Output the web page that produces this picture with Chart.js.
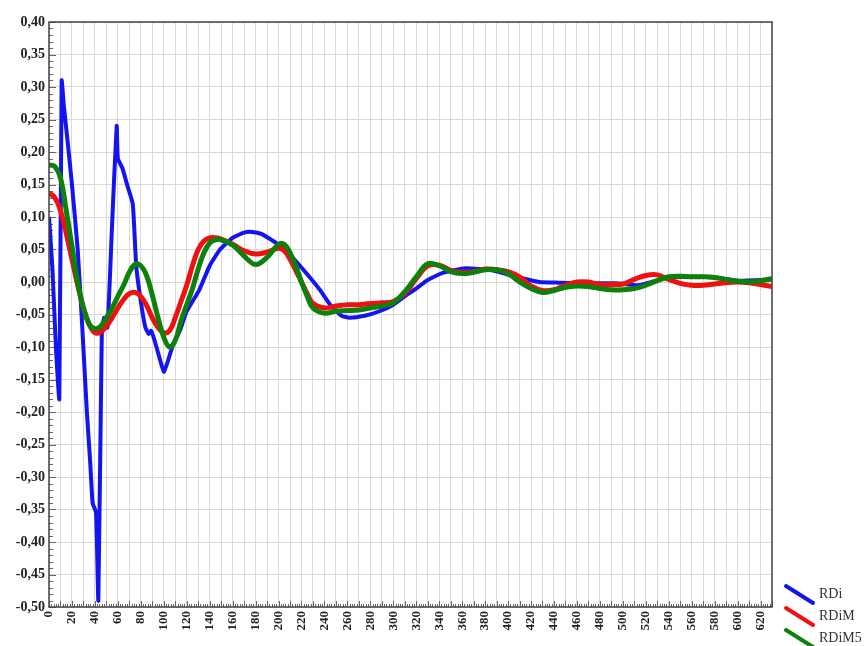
<!DOCTYPE html>
<html>
<head>
<meta charset="utf-8">
<script src="https://cdn.jsdelivr.net/npm/chart.js@4.4.1/dist/chart.umd.min.js"></script>
<style>
  html, body { margin: 0; padding: 0; background: #fff; }
  #wrap { width: 866px; height: 646px; position: relative; }
</style>
</head>
<body>
<div id="wrap"><canvas id="rdChart" width="866" height="646"></canvas></div>
<script>
// RDi (raw) sampled at its own positions
const xRDi = [0, 3, 6, 9, 11, 13, 16, 20, 25, 29, 33, 36, 38, 41, 43, 46, 48, 51, 55, 59, 60, 64, 68, 73, 76, 80, 84, 87, 89, 92, 96, 100, 103, 108, 114, 120, 131, 140, 149, 160, 170, 177, 185, 198, 212, 225, 236, 245, 255, 262, 275, 288, 300, 310, 320, 330, 343, 363, 386, 407, 427, 444, 470, 494, 514, 537, 560, 580, 600, 630];
const yRDi = [0.10, 0.02, -0.10, -0.18, 0.31, 0.27, 0.22, 0.15, 0.05, -0.07, -0.20, -0.28, -0.34, -0.355, -0.49, -0.08, -0.055, -0.07, 0.09, 0.24, 0.19, 0.175, 0.15, 0.12, 0.025, -0.03, -0.07, -0.08, -0.075, -0.09, -0.115, -0.138, -0.125, -0.097, -0.075, -0.045, -0.012, 0.025, 0.05, 0.068, 0.076, 0.077, 0.074, 0.06, 0.038, 0.012, -0.012, -0.035, -0.052, -0.055, -0.052, -0.045, -0.035, -0.022, -0.010, 0.003, 0.014, 0.021, 0.018, 0.008, 0.000, -0.001, -0.002, -0.002, -0.005, 0.006, 0.008, 0.007, 0.002, 0.004];

// smoothed series share one set of positions
const xSmooth = [0, 5, 10, 15, 20, 25, 30, 35, 40, 45, 50, 55, 60, 65, 70, 75, 80, 85, 90, 95, 100, 105, 110, 115, 120, 125, 130, 135, 140, 145, 150, 160, 170, 180, 190, 200, 205, 210, 215, 220, 225, 230, 240, 250, 260, 270, 280, 290, 300, 310, 320, 330, 340, 350, 360, 370, 380, 390, 400, 410, 420, 430, 440, 450, 460, 470, 480, 490, 500, 510, 520, 530, 540, 550, 560, 570, 580, 590, 600, 610, 620, 630];
const yRDiM = [0.137, 0.130, 0.110, 0.075, 0.035, -0.005, -0.040, -0.065, -0.078, -0.077, -0.068, -0.055, -0.040, -0.027, -0.018, -0.016, -0.022, -0.036, -0.055, -0.070, -0.078, -0.075, -0.055, -0.030, -0.005, 0.025, 0.050, 0.063, 0.068, 0.068, 0.066, 0.058, 0.048, 0.043, 0.046, 0.052, 0.048, 0.035, 0.018, 0.000, -0.018, -0.033, -0.040, -0.037, -0.035, -0.035, -0.033, -0.032, -0.030, -0.018, 0.005, 0.025, 0.026, 0.018, 0.015, 0.016, 0.020, 0.019, 0.016, 0.008, -0.006, -0.013, -0.012, -0.005, 0.000, 0.000, -0.004, -0.004, -0.003, 0.004, 0.010, 0.011, 0.004, -0.002, -0.005, -0.005, -0.003, -0.001, 0.000, -0.001, -0.004, -0.007];
const yRDiM5 = [0.180, 0.178, 0.160, 0.110, 0.055, 0.000, -0.040, -0.065, -0.072, -0.068, -0.055, -0.040, -0.022, -0.005, 0.015, 0.027, 0.025, 0.010, -0.020, -0.055, -0.085, -0.100, -0.090, -0.060, -0.035, -0.010, 0.020, 0.045, 0.060, 0.065, 0.065, 0.057, 0.040, 0.027, 0.038, 0.058, 0.058, 0.045, 0.025, 0.000, -0.022, -0.040, -0.048, -0.045, -0.044, -0.043, -0.040, -0.037, -0.032, -0.015, 0.008, 0.028, 0.025, 0.016, 0.013, 0.015, 0.019, 0.019, 0.013, 0.000, -0.010, -0.016, -0.013, -0.008, -0.006, -0.007, -0.010, -0.012, -0.012, -0.010, -0.005, 0.002, 0.008, 0.009, 0.008, 0.008, 0.007, 0.004, 0.001, 0.000, 0.002, 0.005];

const seriesNames = ["RDi", "RDiM", "RDiM5"];
const seriesColors = ["#1414f0", "#f01010", "#0c820c"];

const xMin = 0, xMax = 630, xStep = 10, xLabelStep = 20;
const yMin = -0.5, yMax = 0.4, yStep = 0.05;

function toPoints(xs, ys) {
  return xs.map((x, i) => ({ x: x, y: ys[i] }));
}

Chart.defaults.font.family = "'Liberation Serif', 'Times New Roman', serif";
Chart.defaults.color = "#222";

// frame, minor ticks and legend with slanted samples
const decorPlugin = {
  id: "decor",
  beforeDatasetsDraw(chart) {
    const { ctx, chartArea: a, scales } = chart;
    ctx.save();
    ctx.strokeStyle = "#666";
    ctx.lineWidth = 1;
    ctx.beginPath();
    for (let v = -50; v <= 40; v++) {
      const py = Math.round(scales.y.getPixelForValue(v / 100)) + 0.5;
      const len = v % 5 === 0 ? 7 : 4;
      ctx.moveTo(a.left, py);
      ctx.lineTo(a.left + len, py);
    }
    for (let v = xMin; v <= xMax; v += 2) {
      const px = Math.round(scales.x.getPixelForValue(v)) + 0.5;
      const len = v % 10 === 0 ? 6 : 3;
      ctx.moveTo(px, a.bottom);
      ctx.lineTo(px, a.bottom - len);
    }
    ctx.stroke();
    ctx.restore();
  },
  afterDraw(chart) {
    const { ctx, chartArea: a } = chart;
    ctx.save();
    ctx.strokeStyle = "#444";
    ctx.lineWidth = 1.5;
    ctx.strokeRect(a.left, a.top, a.right - a.left, a.bottom - a.top);

    const lx = a.right + 14;
    const rows = [594, 616, 638];
    ctx.lineCap = "round";
    ctx.font = "14px 'Liberation Serif', serif";
    ctx.textBaseline = "middle";
    rows.forEach((cy, i) => {
      ctx.strokeStyle = seriesColors[i];
      ctx.lineWidth = 4;
      ctx.beginPath();
      ctx.moveTo(lx, cy - 8);
      ctx.lineTo(lx + 27, cy + 9);
      ctx.stroke();
      ctx.fillStyle = "#333";
      ctx.fillText(seriesNames[i], lx + 33, cy);
    });
    ctx.restore();
  }
};

new Chart(document.getElementById("rdChart"), {
  type: "line",
  data: {
    datasets: [
      {
        label: seriesNames[2],
        data: toPoints(xSmooth, yRDiM5),
        borderColor: seriesColors[2],
        borderWidth: 5,
        tension: 0.4,
        pointRadius: 0,
      },
      {
        label: seriesNames[1],
        data: toPoints(xSmooth, yRDiM),
        borderColor: seriesColors[1],
        borderWidth: 5,
        tension: 0.4,
        pointRadius: 0,
      },
      {
        label: seriesNames[0],
        data: toPoints(xRDi, yRDi),
        borderColor: seriesColors[0],
        borderWidth: 4,
        tension: 0.15,
        pointRadius: 0,
      },
    ],
  },
  options: {
    responsive: false,
    animation: false,
    layout: { padding: { left: 0, right: 94, top: 22, bottom: 0 } },
    plugins: { legend: { display: false }, tooltip: { enabled: false } },
    scales: {
      x: {
        type: "linear",
        min: xMin,
        max: xMax,
        afterFit: (s) => { s.height = 39; },
        grid: { color: "#d9d9d9", drawTicks: false },
        border: { display: false },
        ticks: {
          stepSize: xStep,
          autoSkip: false,
          minRotation: 90,
          maxRotation: 90,
          padding: 4,
          font: { size: 13, weight: "bold" },
          callback: (v) => (v % xLabelStep === 0 && v <= 620 ? String(v) : ""),
        },
      },
      y: {
        min: yMin,
        max: yMax,
        afterFit: (s) => { s.width = 49; },
        grid: { color: "#d9d9d9", drawTicks: false },
        border: { display: false },
        ticks: {
          stepSize: yStep,
          padding: 4,
          font: { size: 14, weight: "bold" },
          callback: (v) => (Math.round(v * 100) / 100).toFixed(2).replace(".", ","),
        },
      },
    },
  },
  plugins: [decorPlugin],
});
</script>
</body>
</html>
